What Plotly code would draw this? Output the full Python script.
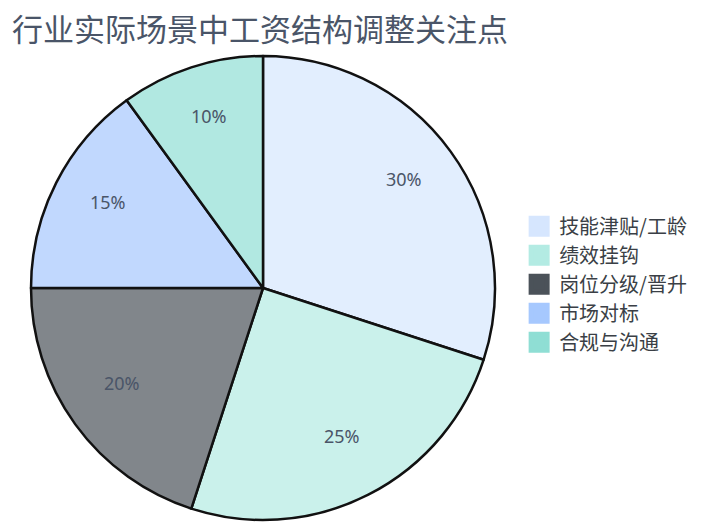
import math
import plotly.graph_objects as go

labels = ["技能津贴/工龄", "绩效挂钩", "岗位分级/晋升", "市场对标", "合规与沟通"]
values = [30, 25, 20, 15, 10]
colors = ["#d6e6fe", "#b3ebe3", "#4b5259", "#a6c8fe", "#8fded4"]

W, H = 705, 525
CX, CY, R = 255, 280, 232   # pie centre / radius in px (from top-left)


def fade(hex_col, a=0.7):
    # mix with white so the slices look lighter than the legend swatches
    h = hex_col.lstrip("#")
    r, g, b = (int(h[i:i + 2], 16) for i in (0, 2, 4))
    mix = lambda c: round(c * a + 255 * (1 - a))
    return "rgb({},{},{})".format(mix(r), mix(g), mix(b))


fig = go.Figure()
fig.add_trace(go.Pie(
    labels=labels,
    values=values,
    sort=False,
    direction="clockwise",
    rotation=0,
    marker=dict(colors=[fade(c) for c in colors], line=dict(color="#111111", width=2.5)),
    textinfo="none",
    domain=dict(x=[(CX - R) / W, (CX + R) / W], y=[1 - (CY + R) / H, 1 - (CY - R) / H]),
    showlegend=False,
))

# percentage labels at 3/4 of the radius, on each slice's middle angle
total = sum(values)
start = 90.0
for v in values:
    sweep = 360.0 * v / total
    mid = math.radians(start - sweep / 2)
    start -= sweep
    fig.add_annotation(
        x=(CX + 0.75 * R * math.cos(mid)) / W,
        y=1 - (CY - 0.75 * R * math.sin(mid)) / H,
        xref="paper", yref="paper", showarrow=False,
        xanchor="center", yanchor="middle", yshift=7,
        text="{:.0f}%".format(100 * v / total),
        font=dict(size=18, color="#4a5568", family="Noto Sans, sans-serif"),
    )

# legend entries at full colour
for lab, col in zip(labels, colors):
    fig.add_trace(go.Scatter(
        x=[None], y=[None], mode="markers", name=lab,
        marker=dict(symbol="square", size=16, color=col,
                    line=dict(color=col, width=5)),
    ))

fig.update_layout(
    width=W, height=H,
    margin=dict(l=0, r=0, t=0, b=0),
    paper_bgcolor="white", plot_bgcolor="white",
    title=dict(text="行业实际场景中工资结构调整关注点", x=0.0057, xanchor="left",
               y=0.958, yanchor="middle",
               font=dict(size=31, color="#4a5568", family="Noto Sans CJK SC, sans-serif")),
    xaxis=dict(visible=False), yaxis=dict(visible=False),
    legend=dict(x=0.725, xanchor="left", y=0.474, yanchor="middle",
                font=dict(size=20, color="#3a3f46", family="Noto Sans CJK SC, sans-serif"),
                itemsizing="trace", tracegroupgap=0, itemwidth=30),
)

fig.write_html("out.html")
